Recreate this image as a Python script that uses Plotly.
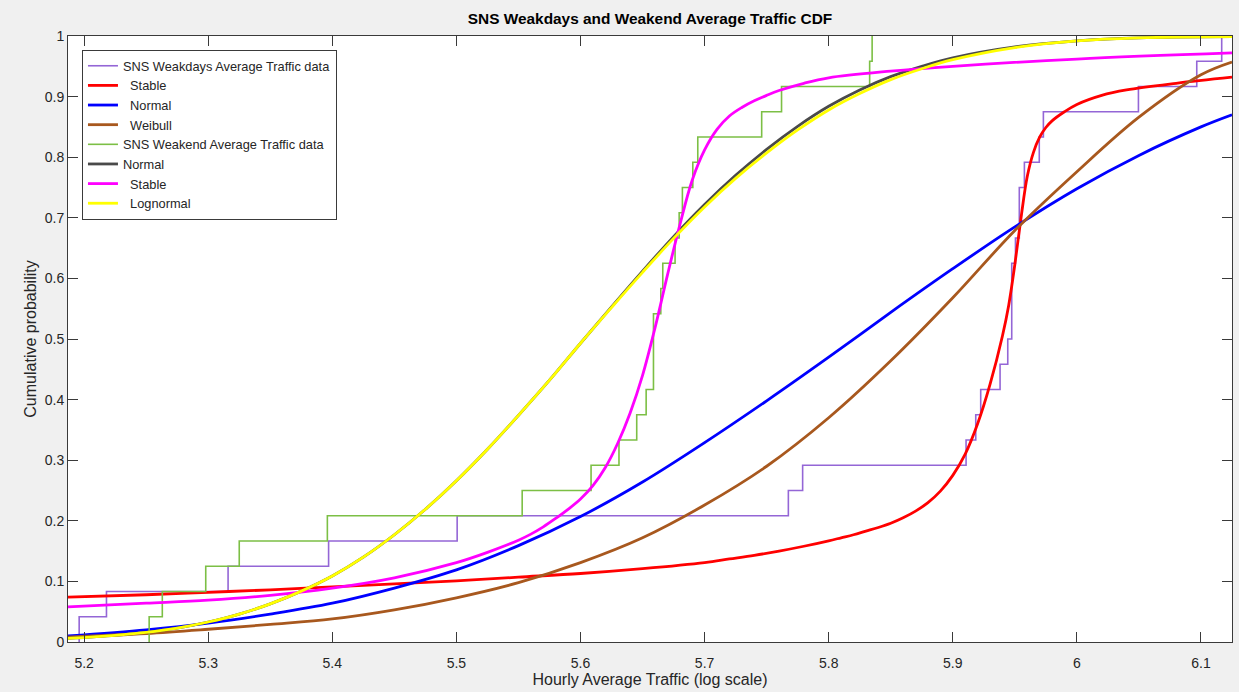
import plotly.graph_objects as go

# ---------------- data ----------------
# Empirical samples (24 observations each)
weekday_samples = [5.196, 5.218, 5.316, 5.397, 5.5006, 5.7675, 5.779, 5.9107, 5.9185,
                   5.9225, 5.9381, 5.9443, 5.9475, 5.9475, 5.9475, 5.9505, 5.9536,
                   5.9536, 5.9577, 5.9697, 5.973, 6.0496, 6.0966, 6.1167]
weekend_samples = [5.2524, 5.263, 5.298, 5.325, 5.396, 5.553, 5.6085, 5.631, 5.6453,
                   5.6529, 5.6588, 5.6588, 5.6588, 5.6647, 5.6663, 5.6762, 5.6795,
                   5.6821, 5.6905, 5.6945, 5.746, 5.762, 5.833, 5.835]

# Fitted CDF curves
wd_stable_x = [5.187, 5.25, 5.30, 5.35, 5.40, 5.45, 5.50, 5.55, 5.60, 5.65, 5.70, 5.72,
               5.74, 5.76, 5.78, 5.80, 5.81, 5.82, 5.83, 5.84, 5.85, 5.86, 5.87, 5.88,
               5.89, 5.90, 5.91, 5.92, 5.93, 5.94, 5.945, 5.95, 5.955, 5.96, 5.965, 5.97,
               5.975, 5.98, 5.99, 6.00, 6.02, 6.04, 6.08, 6.125]
wd_stable_y = [0.074, 0.078, 0.082, 0.086, 0.091, 0.096, 0.101, 0.107, 0.113, 0.121,
               0.131, 0.137, 0.143, 0.150, 0.158, 0.167, 0.172, 0.177, 0.183, 0.189,
               0.196, 0.205, 0.216, 0.230, 0.249, 0.275, 0.310, 0.360, 0.425, 0.505,
               0.555, 0.623, 0.700, 0.768, 0.808, 0.833, 0.849, 0.860, 0.875, 0.887,
               0.902, 0.911, 0.922, 0.932]

wd_normal_x = [5.187, 5.25, 5.30, 5.35, 5.40, 5.45, 5.50, 5.55, 5.60, 5.65, 5.70, 5.75,
               5.80, 5.85, 5.90, 5.95, 6.00, 6.05, 6.10, 6.125]
wd_normal_y = [0.010, 0.020, 0.031, 0.046, 0.064, 0.089, 0.119, 0.159, 0.207, 0.264,
               0.329, 0.398, 0.470, 0.544, 0.616, 0.685, 0.748, 0.803, 0.850, 0.870]

wd_weibull_x = [5.187, 5.25, 5.30, 5.35, 5.40, 5.45, 5.50, 5.55, 5.60, 5.65, 5.70, 5.75,
                5.80, 5.85, 5.90, 5.95, 6.00, 6.05, 6.10, 6.125]
wd_weibull_y = [0.008, 0.014, 0.021, 0.029, 0.038, 0.053, 0.073, 0.098, 0.131, 0.172,
                0.226, 0.290, 0.370, 0.464, 0.568, 0.679, 0.776, 0.866, 0.936, 0.957]

we_normal_x = [5.187, 5.225, 5.25, 5.275, 5.30, 5.325, 5.35, 5.375, 5.40, 5.425, 5.45,
               5.475, 5.50, 5.525, 5.55, 5.575, 5.60, 5.625, 5.65, 5.675, 5.70, 5.725,
               5.75, 5.775, 5.80, 5.825, 5.85, 5.875, 5.90, 5.95, 6.00, 6.05, 6.125]
we_normal_y = [0.006, 0.011, 0.016, 0.023, 0.033, 0.046, 0.063, 0.084, 0.109, 0.140,
               0.177, 0.219, 0.266, 0.318, 0.374, 0.432, 0.493, 0.553, 0.612, 0.669,
               0.722, 0.770, 0.813, 0.851, 0.884, 0.911, 0.933, 0.950, 0.964, 0.982,
               0.992, 0.997, 0.999]

we_stable_x = [5.187, 5.25, 5.30, 5.35, 5.40, 5.45, 5.50, 5.525, 5.55, 5.56, 5.57, 5.58,
               5.59, 5.60, 5.61, 5.62, 5.63, 5.64, 5.65, 5.66, 5.67, 5.68, 5.69, 5.70,
               5.71, 5.72, 5.73, 5.74, 5.75, 5.76, 5.78, 5.80, 5.85, 5.90, 6.00, 6.125]
we_stable_y = [0.058, 0.064, 0.069, 0.077, 0.089, 0.106, 0.131, 0.148, 0.168, 0.178,
               0.190, 0.204, 0.219, 0.236, 0.258, 0.288, 0.328, 0.378, 0.440, 0.518,
               0.605, 0.688, 0.762, 0.812, 0.846, 0.868, 0.882, 0.893, 0.902, 0.910,
               0.922, 0.931, 0.942, 0.950, 0.962, 0.972]

we_lognormal_x = [5.187, 5.225, 5.25, 5.275, 5.30, 5.325, 5.35, 5.375, 5.40, 5.425, 5.45,
                  5.475, 5.50, 5.525, 5.55, 5.575, 5.60, 5.625, 5.65, 5.675, 5.70, 5.725,
                  5.75, 5.775, 5.80, 5.825, 5.85, 5.875, 5.90, 5.95, 6.00, 6.05, 6.125]
we_lognormal_y = [0.006, 0.011, 0.016, 0.023, 0.033, 0.046, 0.063, 0.084, 0.109, 0.140,
                  0.177, 0.219, 0.266, 0.318, 0.374, 0.432, 0.493, 0.552, 0.610, 0.666,
                  0.718, 0.765, 0.807, 0.845, 0.878, 0.905, 0.928, 0.946, 0.961, 0.981,
                  0.992, 0.997, 0.999]

x_ticks = [5.2, 5.3, 5.4, 5.5, 5.6, 5.7, 5.8, 5.9, 6.0, 6.1]
x_tick_labels = ["5.2", "5.3", "5.4", "5.5", "5.6", "5.7", "5.8", "5.9", "6", "6.1"]
y_ticks = [0, 0.1, 0.2, 0.3, 0.4, 0.5, 0.6, 0.7, 0.8, 0.9, 1.0]
y_tick_labels = ["0", "0.1", "0.2", "0.3", "0.4", "0.5", "0.6", "0.7", "0.8", "0.9", "1"]


def ecdf(samples):
    s = sorted(samples)
    n = len(s)
    xs = [s[0]] + s
    ys = [0.0] + [(i + 1) / n for i in range(n)]
    return xs, ys


FONT = "Liberation Sans, Arial, Helvetica, sans-serif"
NB = "\u00a0\u00a0"
CW = 2.8
fig = go.Figure()

wx, wy = ecdf(weekday_samples)
fig.add_trace(go.Scatter(x=wx, y=wy, mode="lines", line=dict(color="#9466d6", width=1.6, shape="hv"),
                         name="SNS Weakdays Average Traffic data"))
fig.add_trace(go.Scatter(x=wd_stable_x, y=wd_stable_y, mode="lines",
                         line=dict(color="#ff0000", width=CW, shape="spline", smoothing=1.0),
                         name=NB + "Stable"))
fig.add_trace(go.Scatter(x=wd_normal_x, y=wd_normal_y, mode="lines",
                         line=dict(color="#0000ff", width=CW, shape="spline", smoothing=1.0),
                         name=NB + "Normal"))
fig.add_trace(go.Scatter(x=wd_weibull_x, y=wd_weibull_y, mode="lines",
                         line=dict(color="#a8581e", width=CW, shape="spline", smoothing=1.0),
                         name=NB + "Weibull"))

ex, ey = ecdf(weekend_samples)
fig.add_trace(go.Scatter(x=ex, y=ey, mode="lines", line=dict(color="#7cbf45", width=1.6, shape="hv"),
                         name="SNS Weakend Average Traffic data"))
fig.add_trace(go.Scatter(x=we_normal_x, y=we_normal_y, mode="lines",
                         line=dict(color="#4a4a4a", width=CW, shape="spline", smoothing=1.0),
                         name="Normal"))
fig.add_trace(go.Scatter(x=we_stable_x, y=we_stable_y, mode="lines",
                         line=dict(color="#ff00ff", width=CW, shape="spline", smoothing=1.0),
                         name=NB + "Stable"))
fig.add_trace(go.Scatter(x=we_lognormal_x, y=we_lognormal_y, mode="lines",
                         line=dict(color="#ffff00", width=CW, shape="spline", smoothing=1.0),
                         name=NB + "Lognormal"))

axis_common = dict(showgrid=False, zeroline=False, showline=True, linecolor="#3a3a3a", linewidth=1,
                   mirror="ticks", ticks="inside", ticklen=10, tickcolor="#3a3a3a",
                   tickfont=dict(family=FONT, size=14, color="#262626"))

fig.update_layout(
    width=1239, height=692, autosize=False,
    paper_bgcolor="#f0f0f0", plot_bgcolor="#ffffff",
    margin=dict(l=68, r=7, t=36, b=50),
    font=dict(family=FONT, size=13, color="#262626"),
    title=dict(text="<b>SNS Weakdays and Weakend Average Traffic CDF</b>",
               x=0.5, xref="paper", xanchor="center", y=1 - 19 / 692, yanchor="middle",
               font=dict(family=FONT, size=15.4, color="#000000")),
    xaxis=dict(range=[5.187, 6.125], tickvals=x_ticks, ticktext=x_tick_labels,
               ticklabelstandoff=8,
               title=dict(text="Hourly Average Traffic (log scale)", standoff=4,
                          font=dict(family=FONT, size=16, color="#262626")),
               **axis_common),
    yaxis=dict(range=[0, 1], tickvals=y_ticks, ticktext=y_tick_labels,
               title=dict(text="Cumulative probability", standoff=4,
                          font=dict(family=FONT, size=16, color="#262626")),
               **axis_common),
    legend=dict(x=0.012, y=0.977, xanchor="left", yanchor="top",
                bgcolor="#ffffff", bordercolor="#3a3a3a", borderwidth=1,
                font=dict(family=FONT, size=12.8, color="#262626"), itemwidth=30, tracegroupgap=0),
    showlegend=True,
)

fig.write_html("out.html", config={"displayModeBar": False},
               post_script="document.body.style.margin='0';document.body.style.background='#f0f0f0';")
